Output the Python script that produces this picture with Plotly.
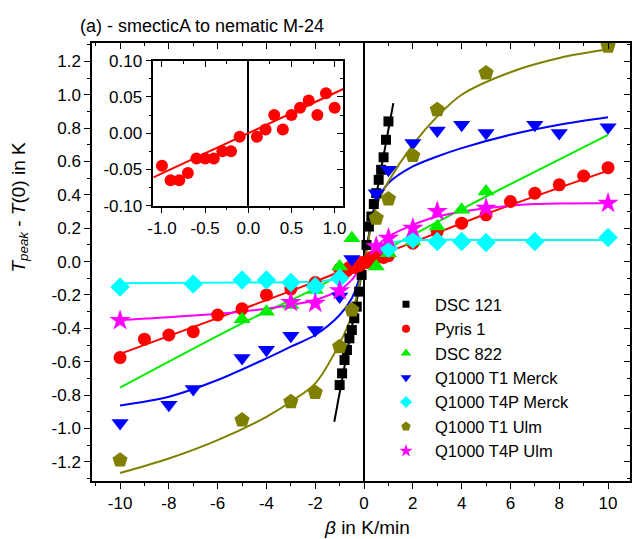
import plotly.graph_objects as go

# ---------------- data ----------------
# DSC 121 (black squares)
dsc121_rate = [-1.0, -0.9, -0.8, -0.7, -0.6, -0.5, -0.4, -0.3, -0.2, -0.1,
               0.1, 0.2, 0.3, 0.4, 0.5, 0.6, 0.7, 0.8, 0.9, 1.0]
dsc121_dT = [-0.74, -0.67, -0.59, -0.53, -0.46, -0.41, -0.34, -0.27, -0.18, -0.08,
             0.10, 0.21, 0.27, 0.345, 0.41, 0.49, 0.55, 0.625, 0.73, 0.84]
dsc121_fit_rate = [-1.22, -0.6, 0.0, 0.6, 1.2]
dsc121_fit_dT = [-0.96, -0.47, 0.0, 0.47, 0.95]

# Pyris 1 (red circles) - high rates
pyris_rate = [-10, -9, -8, -7, -6, -5, -4, -3, -2, 2, 3, 4, 5, 6, 7, 8, 9, 10]
pyris_dT = [-0.575, -0.465, -0.44, -0.42, -0.32, -0.283, -0.20, -0.165, -0.126,
            0.11, 0.18, 0.23, 0.28, 0.36, 0.41, 0.46, 0.513, 0.563]
# Pyris 1 - low rates (inset)
pyris_small_rate = [-1.0, -0.9, -0.8, -0.7, -0.6, -0.5, -0.4, -0.3, -0.2, -0.1,
                    0.1, 0.2, 0.3, 0.4, 0.5, 0.6, 0.7, 0.8, 0.9, 1.0]
pyris_small_dT = [-0.045, -0.065, -0.065, -0.055, -0.035, -0.035, -0.035, -0.025, -0.025, -0.005,
                  -0.005, 0.005, 0.025, 0.005, 0.025, 0.035, 0.045, 0.025, 0.055, 0.035]
pyris_fit_rate = [-10, -5, -2, 0, 2, 5, 10]
pyris_fit_dT = [-0.553, -0.285, -0.12, 0.0, 0.115, 0.285, 0.545]
inset_fit_rate = [-1.1, 1.1]
inset_fit_dT = [-0.061, 0.061]

# DSC 822 (green triangles)
dsc822_rate = [-5, -4, -3, -2, -1, -0.5, 0.5, 1, 2, 3, 4, 5]
dsc822_dT = [-0.345, -0.30, -0.26, -0.17, -0.03, 0.14, -0.03, 0.05, 0.12, 0.21, 0.31, 0.42]
dsc822_fit_rate = [-10, -5, -2, 0, 2, 5, 10]
dsc822_fit_dT = [-0.755, -0.37, -0.16, 0.0, 0.16, 0.39, 0.76]

# Q1000 T1 Merck (blue down-triangles)
t1m_rate = [-10, -8, -7, -5, -4, -3, -2, -1, -0.5, 0.5, 1, 2, 3, 4, 5, 7, 8, 10]
t1m_dT = [-0.968, -0.858, -0.764, -0.578, -0.529, -0.445, -0.41, -0.21, 0.015,
          0.41, 0.55, 0.71, 0.785, 0.82, 0.77, 0.82, 0.77, 0.805]
t1m_fit_rate = [-10, -8, -6, -4, -3, -2, -1, -0.5, 0, 0.5, 1, 2, 3, 4, 6, 8, 10]
t1m_fit_dT = [-0.862, -0.81, -0.71, -0.58, -0.51, -0.44, -0.32, -0.22, 0.0,
              0.35, 0.47, 0.57, 0.63, 0.68, 0.76, 0.82, 0.865]

# Q1000 T4P Merck (cyan diamonds)
t4pm_rate = [-10, -7, -5, -4, -3, -2, -1, 1, 2, 3, 4, 5, 7, 10]
t4pm_dT = [-0.153, -0.134, -0.11, -0.11, -0.126, -0.15, -0.10,
           0.08, 0.134, 0.12, 0.12, 0.114, 0.12, 0.144]
t4pm_fit_rate = [-10, -5, -2, -1, -0.5, 0, 0.5, 1, 2, 5, 10]
t4pm_fit_dT = [-0.13, -0.125, -0.12, -0.10, -0.07, 0.0, 0.08, 0.11, 0.128, 0.13, 0.13]

# Q1000 T1 Ulm (olive pentagons)
t1u_rate = [-10, -5, -3, -2, -1, -0.5, 0.5, 1, 2, 3, 5, 10]
t1u_dT = [-1.19, -0.95, -0.84, -0.785, -0.51, -0.29, 0.26, 0.375, 0.635, 0.91, 1.13, 1.29]
t1u_fit_rate = [-10, -8, -6, -4, -3, -2, -1, -0.5, 0, 0.5, 1, 2, 3, 4, 6, 8, 10]
t1u_fit_dT = [-1.267, -1.18, -1.07, -0.93, -0.84, -0.73, -0.49, -0.32, 0.0,
              0.33, 0.48, 0.70, 0.87, 1.0, 1.135, 1.22, 1.272]

# Q1000 T4P Ulm (magenta stars)
t4pu_rate = [-10, -3, -2, -1, 0.5, 1, 2, 3, 5, 10]
t4pu_dT = [-0.353, -0.245, -0.25, -0.175, 0.09, 0.14, 0.20, 0.30, 0.32, 0.35]
t4pu_fit_rate = [-10, -5, -3, -2, -1, -0.5, 0, 0.5, 1, 2, 3, 5, 7, 10]
t4pu_fit_dT = [-0.35, -0.30, -0.26, -0.23, -0.17, -0.11, 0.0, 0.09, 0.15, 0.22, 0.27, 0.32, 0.345, 0.35]

series_names = ["DSC 121", "Pyris 1", "DSC 822", "Q1000 T1 Merck",
                "Q1000 T4P Merck", "Q1000 T1 Ulm", "Q1000 T4P Ulm"]

# tick labels
x_tick_vals = [-10, -8, -6, -4, -2, 0, 2, 4, 6, 8, 10]
x_tick_text = ["-10", "-8", "-6", "-4", "-2", "0", "2", "4", "6", "8", "10"]
y_tick_vals = [-1.2, -1.0, -0.8, -0.6, -0.4, -0.2, 0.0, 0.2, 0.4, 0.6, 0.8, 1.0, 1.2]
y_tick_text = ["-1.2", "-1.0", "-0.8", "-0.6", "-0.4", "-0.2", "0.0",
               "0.2", "0.4", "0.6", "0.8", "1.0", "1.2"]
ix_tick_vals = [-1.0, -0.5, 0.0, 0.5, 1.0]
ix_tick_text = ["-1.0", "-0.5", "0.0", "0.5", "1.0"]
iy_tick_vals = [-0.10, -0.05, 0.0, 0.05, 0.10]
iy_tick_text = ["-0.10", "-0.05", "0.00", "0.05", "0.10"]

# ---------------- styles ----------------
FONT = "Liberation Sans, Arial, Helvetica, sans-serif"
C_BLACK = "#000000"
C_RED = "#ff0000"
C_GREEN = "#00ee00"
C_BLUE = "#0000ff"
C_CYAN = "#00ffff"
C_OLIVE = "#808000"
C_MAG = "#ff00ff"

styles = [
    (C_BLACK, "square", 10),
    (C_RED, "circle", 13),
    (C_GREEN, "triangle-up", 15),
    (C_BLUE, "triangle-down", 15),
    (C_CYAN, "diamond", 15),
    (C_OLIVE, "pentagon", 16),
    (C_MAG, "star", 16),
]

fits = [
    (dsc121_fit_rate, dsc121_fit_dT),
    (pyris_fit_rate, pyris_fit_dT),
    (dsc822_fit_rate, dsc822_fit_dT),
    (t1m_fit_rate, t1m_fit_dT),
    (t4pm_fit_rate, t4pm_fit_dT),
    (t1u_fit_rate, t1u_fit_dT),
    (t4pu_fit_rate, t4pu_fit_dT),
]
points = [
    (dsc121_rate, dsc121_dT),
    (pyris_rate + pyris_small_rate, pyris_dT + pyris_small_dT),
    (dsc822_rate, dsc822_dT),
    (t1m_rate, t1m_dT),
    (t4pm_rate, t4pm_dT),
    (t1u_rate, t1u_dT),
    (t4pu_rate, t4pu_dT),
]

fig = go.Figure()

# fit lines
for (fx, fy), (col, sym, sz) in zip(fits, styles):
    shape = "linear" if col == C_BLACK else "spline"
    fig.add_trace(go.Scatter(x=fx, y=fy, mode="lines", showlegend=False,
                             line=dict(color=col, width=2, shape=shape, smoothing=0.9),
                             hoverinfo="skip"))
# data points
for (px, py), (col, sym, sz) in zip(points, styles):
    fig.add_trace(go.Scatter(x=px, y=py, mode="markers", showlegend=False,
                             marker=dict(color=col, symbol=sym, size=sz, line=dict(width=0))))
# legend entries
for name, (col, sym, sz) in zip(series_names, styles):
    fig.add_trace(go.Scatter(x=[None], y=[None], mode="markers", name=name,
                             marker=dict(color=col, symbol=sym, size=max(7, sz * 0.62),
                                         line=dict(width=0))))

# inset
fig.add_trace(go.Scatter(x=inset_fit_rate, y=inset_fit_dT, mode="lines", showlegend=False,
                         line=dict(color=C_RED, width=2), xaxis="x2", yaxis="y2"))
fig.add_trace(go.Scatter(x=pyris_small_rate, y=pyris_small_dT, mode="markers", showlegend=False,
                         marker=dict(color=C_RED, symbol="circle", size=12),
                         xaxis="x2", yaxis="y2"))

# dummy traces to activate mirror tick axes
fig.add_trace(go.Scatter(x=[None], y=[None], xaxis="x3", yaxis="y", showlegend=False))
fig.add_trace(go.Scatter(x=[None], y=[None], xaxis="x", yaxis="y3", showlegend=False))
fig.add_trace(go.Scatter(x=[None], y=[None], xaxis="x4", yaxis="y2", showlegend=False))
fig.add_trace(go.Scatter(x=[None], y=[None], xaxis="x2", yaxis="y4", showlegend=False))

XR = [-11.15, 10.9]
YR = [-1.315, 1.31]
IXR = [-1.1, 1.1]
IYR = [-0.1, 0.1]
TICKF = dict(family=FONT, size=17, color="#000000")
ITICKF = dict(family=FONT, size=17, color="#000000")

common = dict(showgrid=False, linecolor="#000000", linewidth=1.5, tickcolor="#000000",
              tickwidth=1.2, automargin=False)

fig.update_layout(
    width=632, height=539,
    margin=dict(l=92, r=2, t=43, b=58, autoexpand=False),
    paper_bgcolor="white", plot_bgcolor="white",
    font=dict(family=FONT, size=17, color="#000000"),
    title=dict(text="(a) - smecticA to nematic M-24", x=80 / 632, xref="container",
               xanchor="left", y=1 - 26 / 539, yref="container", yanchor="middle",
               font=dict(family=FONT, size=18, color="#000000")),
    xaxis=dict(range=XR, tickmode="array", tickvals=x_tick_vals, ticktext=x_tick_text,
               ticks="outside", ticklen=6, showline=True, mirror=True, tickangle=0,
               zeroline=True, zerolinecolor="#000000", zerolinewidth=1.5,
               minor=dict(tickmode="linear", tick0=0, dtick=1, ticks="outside", ticklen=3,
                          tickcolor="#000000", showgrid=False),
               tickfont=TICKF, **common),
    yaxis=dict(range=YR, tickmode="array", tickvals=y_tick_vals, ticktext=y_tick_text,
               ticks="outside", ticklen=6, showline=True, mirror=True, zeroline=False,
               minor=dict(tickmode="linear", tick0=0, dtick=0.1, ticks="outside", ticklen=3,
                          tickcolor="#000000", showgrid=False),
               tickfont=TICKF, **common),
    xaxis3=dict(range=XR, overlaying="x", side="top", anchor="y", tickmode="array",
                tickvals=x_tick_vals, showticklabels=False, ticks="inside", ticklen=6,
                showline=False, zeroline=False,
                minor=dict(tickmode="linear", tick0=0, dtick=1, ticks="inside", ticklen=3,
                           tickcolor="#000000", showgrid=False), **common),
    yaxis3=dict(range=YR, overlaying="y", side="right", anchor="x", tickmode="array",
                tickvals=y_tick_vals, showticklabels=False, ticks="inside", ticklen=6,
                showline=False, zeroline=False,
                minor=dict(tickmode="linear", tick0=0, dtick=0.1, ticks="inside", ticklen=3,
                           tickcolor="#000000", showgrid=False), **common),
    xaxis2=dict(domain=[0.114, 0.467], anchor="y2", range=IXR, tickmode="array",
                tickvals=ix_tick_vals, ticktext=ix_tick_text, ticks="outside", ticklen=6,
                showline=True, mirror=True, zeroline=True, zerolinecolor="#000000",
                zerolinewidth=1.5, tickangle=0,
                minor=dict(tickmode="linear", tick0=0, dtick=0.25, ticks="outside", ticklen=3,
                           tickcolor="#000000", showgrid=False),
                tickfont=ITICKF, **common),
    yaxis2=dict(domain=[0.6285, 0.9596], anchor="x2", range=IYR, tickmode="array",
                tickvals=iy_tick_vals, ticktext=iy_tick_text, ticks="outside", ticklen=6,
                showline=True, mirror=True, zeroline=False,
                minor=dict(tickmode="linear", tick0=0, dtick=0.025, ticks="outside", ticklen=3,
                           tickcolor="#000000", showgrid=False),
                tickfont=ITICKF, **common),
    xaxis4=dict(range=IXR, overlaying="x2", side="top", anchor="y2", tickmode="array",
                tickvals=ix_tick_vals, showticklabels=False, ticks="inside", ticklen=6,
                showline=False, zeroline=False,
                minor=dict(tickmode="linear", tick0=0, dtick=0.25, ticks="inside", ticklen=3,
                           tickcolor="#000000", showgrid=False), **common),
    yaxis4=dict(range=IYR, overlaying="y2", side="right", anchor="x2", tickmode="array",
                tickvals=iy_tick_vals, showticklabels=False, ticks="inside", ticklen=6,
                showline=False, zeroline=False,
                minor=dict(tickmode="linear", tick0=0, dtick=0.025, ticks="inside", ticklen=3,
                           tickcolor="#000000", showgrid=False), **common),
    legend=dict(xref="paper", yref="paper", x=(377 - 92) / 538, y=(481 - 287) / 438,
                xanchor="left", yanchor="top", bgcolor="rgba(0,0,0,0)", borderwidth=0,
                font=dict(family=FONT, size=16.5, color="#000000"),
                itemwidth=48, tracegroupgap=0),
    showlegend=True,
)

fig.add_annotation(text="<i>T</i><sub><i>peak</i></sub> - <i>T</i>(0) in K",
                   xref="paper", yref="paper", x=(19.5 - 92) / 538, y=(481 - 207) / 438,
                   textangle=-90, showarrow=False, xanchor="center", yanchor="middle",
                   font=dict(family=FONT, size=19, color="#000000"))
fig.add_annotation(text="<i>β</i> in K/min",
                   xref="paper", yref="paper", x=(366.5 - 92) / 538, y=(481 - 527) / 438,
                   showarrow=False, xanchor="center", yanchor="middle",
                   font=dict(family=FONT, size=19, color="#000000"))

fig.write_html("out.html")
